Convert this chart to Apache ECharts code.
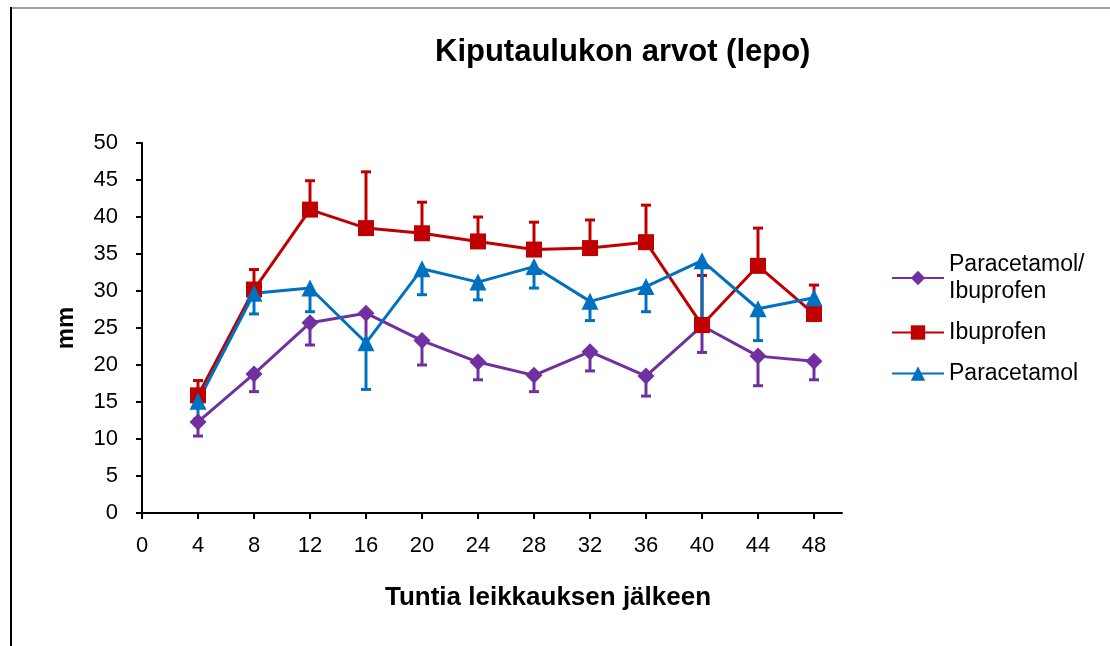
<!DOCTYPE html>
<html>
<head>
<meta charset="utf-8">
<script src="https://cdn.jsdelivr.net/npm/echarts@6/dist/echarts.min.js"></script>
<style>
  html, body { margin: 0; padding: 0; background: #fff; }
  #main { width: 1110px; height: 646px; }
</style>
</head>
<body>
<div id="main"></div>
<script>
// tunnit leikkauksen jälkeen
var hours = [4, 8, 12, 16, 20, 24, 28, 32, 36, 40, 44, 48];
var xTicks = [0, 4, 8, 12, 16, 20, 24, 28, 32, 36, 40, 44, 48];
var yTicks = [0, 5, 10, 15, 20, 25, 30, 35, 40, 45, 50];

var comboMean = [12.3, 18.8, 25.7, 27.0, 23.3, 20.4, 18.6, 21.8, 18.5, 25.3, 21.2, 20.5];
var comboErr  = [1.9, 2.4, 3.0, 4.9, 3.3, 2.4, 2.2, 2.6, 2.7, 3.6, 4.0, 2.5];

var ibuMean = [15.9, 30.2, 41.0, 38.5, 37.8, 36.7, 35.6, 35.8, 36.6, 25.4, 33.4, 26.9];
var ibuErr  = [2.0, 2.7, 3.9, 7.6, 4.2, 3.3, 3.7, 3.8, 5.0, 6.7, 5.1, 3.9];

var paraMean = [15.1, 29.7, 30.4, 23.0, 33.0, 31.2, 33.3, 28.6, 30.6, 34.1, 27.6, 29.1];
var paraErr  = [2.4, 2.8, 3.2, 6.3, 3.5, 2.4, 2.9, 2.6, 3.4, 7.8, 4.3, 3.1];

var PURPLE = '#7030A0', RED = '#C00000', BLUE = '#0070C0';
var FONT = 'Liberation Sans';

function pairs(mean, err) {
    return hours.map(function (h, i) { return [h, mean[i], err[i]]; });
}

// virhepalkki vain yhteen suuntaan (dir = 1 ylös, -1 alas)
function errorBar(dir, color) {
    return function (params, api) {
        var x = api.value(0), y = api.value(1), e = api.value(2);
        var p0 = api.coord([x, y]);
        var p1 = api.coord([x, y + dir * e]);
        var half = 5;
        var style = { stroke: color, lineWidth: 3 };
        return {
            type: 'group',
            children: [
                { type: 'line', shape: { x1: p0[0], y1: p0[1], x2: p1[0], y2: p1[1] }, style: style },
                { type: 'line', shape: { x1: p1[0] - half, y1: p1[1], x2: p1[0] + half, y2: p1[1] }, style: style }
            ]
        };
    };
}

var chart = echarts.init(document.getElementById('main'));
var option = {
    backgroundColor: '#fff',
    animation: false,
    title: {
        text: 'Kiputaulukon arvot (lepo)',
        left: 430,
        top: 32,
        textStyle: { fontFamily: FONT, fontSize: 31, fontWeight: 'bold', color: '#000' }
    },
    legend: {
        orient: 'vertical',
        left: 891,
        top: 251,
        padding: 0,
        itemWidth: 52,
        itemHeight: 18,
        itemGap: 14,
        data: ['Paracetamol/\nIbuprofen', 'Ibuprofen', 'Paracetamol'],
        textStyle: { fontFamily: FONT, fontSize: 23, color: '#000', lineHeight: 27 }
    },
    graphic: [
        { type: 'line', shape: { x1: 11, y1: 8, x2: 1110, y2: 8 }, style: { stroke: '#a0a0a0', lineWidth: 2 } },
        { type: 'line', shape: { x1: 11, y1: 7, x2: 11, y2: 646 }, style: { stroke: '#000', lineWidth: 2 } }
    ],
    grid: { left: 142, right: 268, top: 143, bottom: 133 },
    xAxis: {
        type: 'value',
        min: 0,
        max: 50,
        interval: 4,
        name: 'Tuntia leikkauksen jälkeen',
        nameLocation: 'middle',
        nameGap: 72,
        nameTextStyle: { fontFamily: FONT, fontSize: 26, fontWeight: 'bold', color: '#000', padding: [0, 0, 0, 112] },
        splitLine: { show: false },
        axisLine: { lineStyle: { color: '#000', width: 2 } },
        axisTick: { length: 6, lineStyle: { color: '#000', width: 2 }, customValues: xTicks },
        axisLabel: { margin: 22, fontFamily: FONT, fontSize: 22, color: '#000', customValues: xTicks }
    },
    yAxis: {
        type: 'value',
        min: 0,
        max: 50,
        interval: 5,
        name: 'mm',
        nameLocation: 'middle',
        nameGap: 64,
        nameTextStyle: { fontFamily: FONT, fontSize: 24, fontWeight: 'bold', color: '#000' },
        splitLine: { show: false },
        axisLine: { show: true, lineStyle: { color: '#000', width: 2 } },
        axisTick: { show: true, length: 6, lineStyle: { color: '#000', width: 2 }, customValues: yTicks },
        axisLabel: { margin: 24, fontFamily: FONT, fontSize: 22, color: '#000', customValues: yTicks }
    },
    series: [
        { name: 'err-combo', type: 'custom', renderItem: errorBar(-1, PURPLE), data: pairs(comboMean, comboErr), z: 1 },
        { name: 'err-ibu', type: 'custom', renderItem: errorBar(1, RED), data: pairs(ibuMean, ibuErr), z: 1 },
        { name: 'err-para', type: 'custom', renderItem: errorBar(-1, BLUE), data: pairs(paraMean, paraErr), z: 1 },
        {
            name: 'Paracetamol/\nIbuprofen', type: 'line', data: pairs(comboMean, comboErr),
            symbol: 'diamond', symbolSize: 17, color: PURPLE,
            lineStyle: { width: 3 }, itemStyle: { color: PURPLE }, z: 3
        },
        {
            name: 'Ibuprofen', type: 'line', data: pairs(ibuMean, ibuErr),
            symbol: 'rect', symbolSize: 16, color: RED,
            lineStyle: { width: 3 }, itemStyle: { color: RED }, z: 3
        },
        {
            name: 'Paracetamol', type: 'line', data: pairs(paraMean, paraErr),
            symbol: 'triangle', symbolSize: 17, color: BLUE,
            lineStyle: { width: 3 }, itemStyle: { color: BLUE }, z: 3
        }
    ]
};
chart.setOption(option);
</script>
</body>
</html>
